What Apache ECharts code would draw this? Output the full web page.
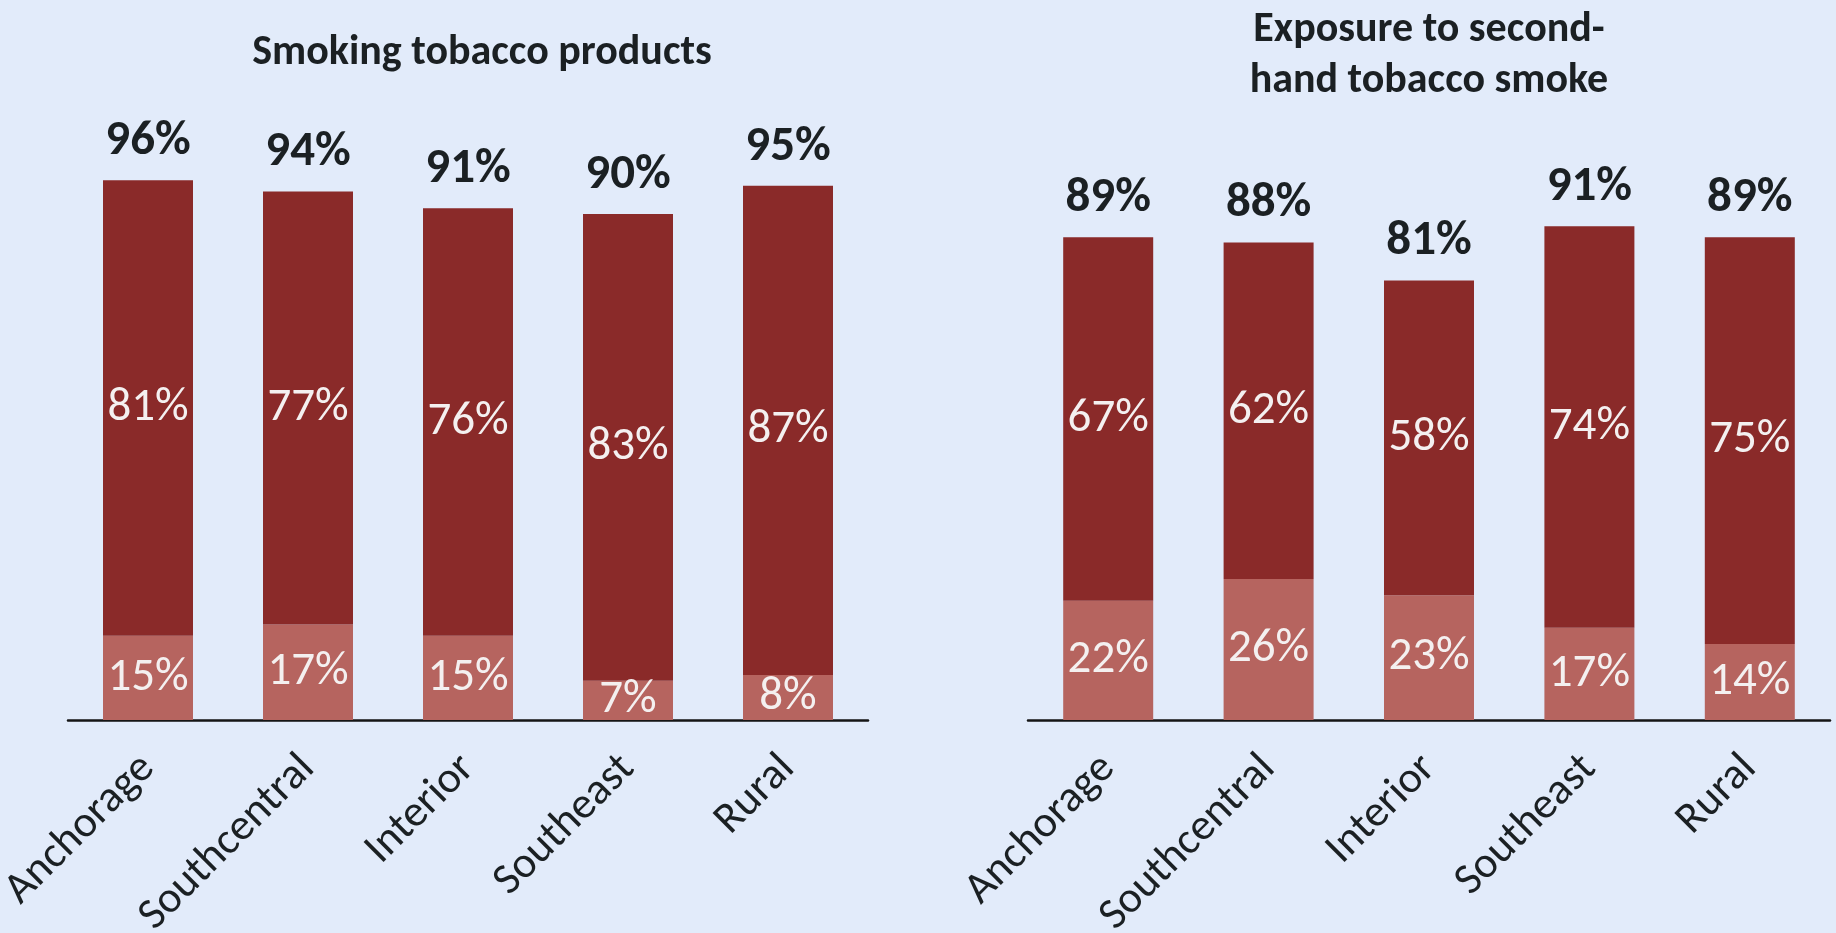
<!DOCTYPE html>
<html>
<head>
<meta charset="utf-8">
<script src="https://cdn.jsdelivr.net/npm/echarts@6/dist/echarts.min.js"></script>
<style>
  html, body { margin: 0; padding: 0; background: #e2ebfa; }
  #chart { width: 1836px; height: 933px; }
</style>
</head>
<body>
<div id="chart"></div>
<script>
// Regions shown on both panels
const regions = ['Anchorage', 'Southcentral', 'Interior', 'Southeast', 'Rural'];

// Panel 1: smoking tobacco products (percent)
const smokeLower = [15, 17, 15, 7, 8];
const smokeUpper = [81, 77, 76, 83, 87];
const smokeTotal = [96, 94, 91, 90, 95];

// Panel 2: exposure to second-hand tobacco smoke (percent)
const shsLower = [22, 26, 23, 17, 14];
const shsUpper = [67, 62, 58, 74, 75];
const shsTotal = [89, 88, 81, 91, 89];

const titles = ['Smoking tobacco products', 'Exposure to second-\nhand tobacco smoke'];

const FONT = 'Carlito, Lato, "Open Sans", sans-serif';
const DARK = '#8a2a29';
const LIGHT = '#b6645f';
const INK = '#1b2023';

function xAxis(gridIndex) {
  return {
    type: 'category', gridIndex, data: regions,
    axisLine: { lineStyle: { color: '#151515', width: 2.5 } },
    axisTick: { show: false },
    axisLabel: {
      rotate: 45, margin: 42, interval: 0,
      fontFamily: FONT, fontSize: 44, color: INK
    }
  };
}
function yAxis(gridIndex) {
  return {
    type: 'value', gridIndex, min: 0, max: 100,
    show: false, splitLine: { show: false }
  };
}
function stack(gridIndex, lower, upper, total) {
  const inner = {
    show: true, position: 'inside', color: '#f4f0f0',
    fontFamily: FONT, fontSize: 47, formatter: p => p.value + '%'
  };
  return [
    {
      type: 'bar', xAxisIndex: gridIndex, yAxisIndex: gridIndex,
      stack: 's' + gridIndex, data: lower, barWidth: 90,
      itemStyle: { color: LIGHT }, label: inner, silent: true
    },
    {
      type: 'bar', xAxisIndex: gridIndex, yAxisIndex: gridIndex,
      stack: 's' + gridIndex, data: upper, barWidth: 90,
      itemStyle: { color: DARK }, label: inner, silent: true
    },
    {
      // totals printed above each stacked column
      type: 'bar', xAxisIndex: gridIndex, yAxisIndex: gridIndex,
      stack: 's' + gridIndex, data: total.map(() => 0), barWidth: 90,
      itemStyle: { color: 'transparent' }, silent: true,
      label: {
        show: true, position: 'top', distance: 14,
        fontFamily: FONT, fontSize: 49, fontWeight: 'bold', color: INK,
        formatter: p => total[p.dataIndex] + '%'
      }
    }
  ];
}

const chart = echarts.init(document.getElementById('chart'), null, { renderer: 'canvas' });
chart.setOption({
  backgroundColor: '#e2ebfa',
  animation: false,
  title: [
    {
      text: titles[0], left: 477, top: 27, textAlign: 'center',
      textStyle: { fontFamily: FONT, fontSize: 42, fontWeight: 'bold', color: INK }
    },
    {
      text: titles[1], left: 1424, top: 0, textAlign: 'center',
      textStyle: { fontFamily: FONT, fontSize: 42, fontWeight: 'bold', color: INK, lineHeight: 51 }
    }
  ],
  grid: [
    { left: 68, width: 800, top: 157.7, bottom: 213, outerBoundsMode: 'none', containLabel: false },
    { left: 1028, width: 802, top: 177.5, bottom: 213, outerBoundsMode: 'none', containLabel: false }
  ],
  xAxis: [xAxis(0), xAxis(1)],
  yAxis: [yAxis(0), yAxis(1)],
  series: [
    ...stack(0, smokeLower, smokeUpper, smokeTotal),
    ...stack(1, shsLower, shsUpper, shsTotal)
  ]
});
</script>
</body>
</html>
